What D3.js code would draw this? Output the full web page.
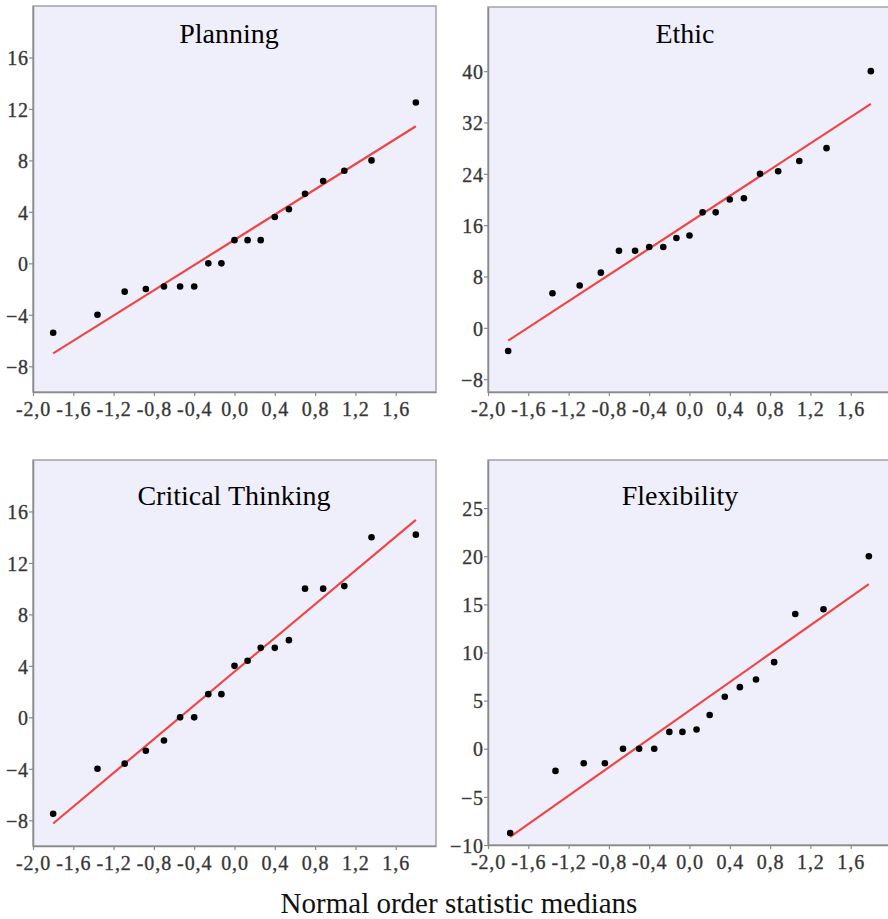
<!DOCTYPE html>
<html>
<head>
<meta charset="utf-8">
<script src="https://cdn.jsdelivr.net/npm/d3@7"></script>
<style>
  html, body { margin: 0; padding: 0; background: #fff; }
  svg { display: block; }
</style>
</head>
<body>
<svg id="chart" width="888" height="919"></svg>
<script>
// normal order statistic medians (n = 19 and n = 18)
const medians19 = [-1.80, -1.36, -1.09, -0.88, -0.70, -0.54, -0.40, -0.26, -0.13, 0.00,
  0.13, 0.26, 0.40, 0.54, 0.70, 0.88, 1.09, 1.36, 1.80];
const medians18 = [-1.78, -1.33, -1.05, -0.84, -0.66, -0.50, -0.35, -0.20, -0.07,
  0.07, 0.20, 0.35, 0.50, 0.66, 0.84, 1.05, 1.33, 1.78];

const planningValues = [-5.4, -4.0, -2.2, -2.0, -1.8, -1.8, -1.8, 0, 0, 1.8, 1.8, 1.8, 3.6, 4.2, 5.4, 6.4, 7.2, 8.0, 12.5];
const ethicValues = [-3.6, 5.4, 6.6, 8.6, 12, 12, 12.6, 12.6, 14, 14.4, 18, 18, 20, 20.2, 24, 24.4, 26, 28, 40];
const criticalValues = [-7.5, -4.0, -3.6, -2.6, -1.8, 0, 0, 1.8, 1.8, 4.0, 4.4, 5.4, 5.4, 6.0, 10, 10, 10.2, 14, 14.2];
const flexValues = [-8.75, -2.3, -1.5, -1.5, 0, 0, 0, 1.75, 1.75, 2.0, 3.5, 5.4, 6.4, 7.2, 9.0, 14, 14.5, 20];

// fitted reference lines: value at the first and last median
const planningLine = [-7.0, 10.65];
const ethicLine = [-2.0, 34.9];
const criticalLine = [-8.25, 15.35];
const flexLine = [-9.15, 17.1];

const xTicks = [-2.0, -1.6, -1.2, -0.8, -0.4, 0.0, 0.4, 0.8, 1.2, 1.6];
const planningTicks = [-8, -4, 0, 4, 8, 12, 16];
const ethicTicks = [-8, 0, 8, 16, 24, 32, 40];
const criticalTicks = [-8, -4, 0, 4, 8, 12, 16];
const flexTicks = [-10, -5, 0, 5, 10, 15, 20, 25];

const SERIF = "Liberation Serif";

const panels = [
  { title: "Planning", xs: medians19, ys: planningValues, line: planningLine, yDomain: [-10, 20], yTicks: planningTicks,
    box: { left: 33, top: 6, right: 436, bottom: 392 }, titleX: 229, titleY: 43 },
  { title: "Ethic", xs: medians19, ys: ethicValues, line: ethicLine, yDomain: [-10, 50], yTicks: ethicTicks,
    box: { left: 488, top: 7, right: 891, bottom: 392 }, titleX: 685, titleY: 43 },
  { title: "Critical Thinking", xs: medians19, ys: criticalValues, line: criticalLine, yDomain: [-10, 20], yTicks: criticalTicks,
    box: { left: 33, top: 460, right: 436, bottom: 846 }, titleX: 234, titleY: 505 },
  { title: "Flexibility", xs: medians18, ys: flexValues, line: flexLine, yDomain: [-10, 30], yTicks: flexTicks,
    box: { left: 488, top: 460, right: 891, bottom: 845 }, titleX: 680, titleY: 505 },
];

const svg = d3.select("#chart");
const fmtX = (d) => d.toFixed(1).replace(".", ",");

panels.forEach((p) => {
  const b = p.box;
  const x = d3.scaleLinear().domain([-2, 2]).range([b.left, b.right]);
  const y = d3.scaleLinear().domain(p.yDomain).range([b.bottom, b.top]);
  const g = svg.append("g");

  // plot area
  g.append("rect")
    .attr("x", b.left).attr("y", b.top)
    .attr("width", b.right - b.left).attr("height", b.bottom - b.top)
    .attr("fill", "#efeffc")
    .attr("stroke", "#a3a3a3")
    .attr("stroke-width", 1.5);

  const xAxis = g.append("g")
    .attr("transform", `translate(0,${b.bottom})`)
    .call(d3.axisBottom(x).tickValues(xTicks).tickFormat(fmtX).tickSize(4).tickPadding(6).tickSizeOuter(0));
  const yAxis = g.append("g")
    .attr("transform", `translate(${b.left},0)`)
    .call(d3.axisLeft(y).tickValues(p.yTicks).tickFormat(d3.format("d")).tickSize(4).tickPadding(0).tickSizeOuter(0));
  [xAxis, yAxis].forEach((a) => {
    a.attr("font-family", null).attr("font-size", null);
    a.select(".domain").attr("stroke", "#8a8a8a").attr("stroke-width", 1.5);
    a.selectAll(".tick line").attr("stroke", "#8a8a8a").attr("stroke-width", 1.2);
    a.selectAll(".tick text")
      .style("font-family", SERIF)
      .style("font-size", "20px")
      .style("letter-spacing", "0.9px")
      .attr("fill", "#333")
      .attr("stroke", "#444")
      .attr("stroke-width", 0.35);
  });
  yAxis.selectAll(".tick text").attr("dy", "0.36em");

  g.append("text")
    .attr("x", p.titleX)
    .attr("y", p.titleY)
    .attr("text-anchor", "middle")
    .style("font-family", SERIF)
    .style("font-size", "28px")
    .style("fill", "#000")
    .text(p.title);

  // reference line
  const xs = p.xs;
  g.append("line")
    .attr("x1", x(xs[0])).attr("y1", y(p.line[0]))
    .attr("x2", x(xs[xs.length - 1])).attr("y2", y(p.line[1]))
    .attr("stroke", "#f04545")
    .attr("stroke-width", 2.2);

  g.append("g")
    .selectAll("circle")
    .data(xs.map((v, i) => [v, p.ys[i]]))
    .join("circle")
    .attr("cx", (d) => x(d[0]))
    .attr("cy", (d) => y(d[1]))
    .attr("r", 3.3)
    .attr("fill", "#000");
});

svg.append("text")
  .attr("x", 459)
  .attr("y", 913)
  .attr("text-anchor", "middle")
  .style("font-family", SERIF)
  .style("font-size", "29px")
  .style("fill", "#111")
  .text("Normal order statistic medians");
</script>
</body>
</html>
